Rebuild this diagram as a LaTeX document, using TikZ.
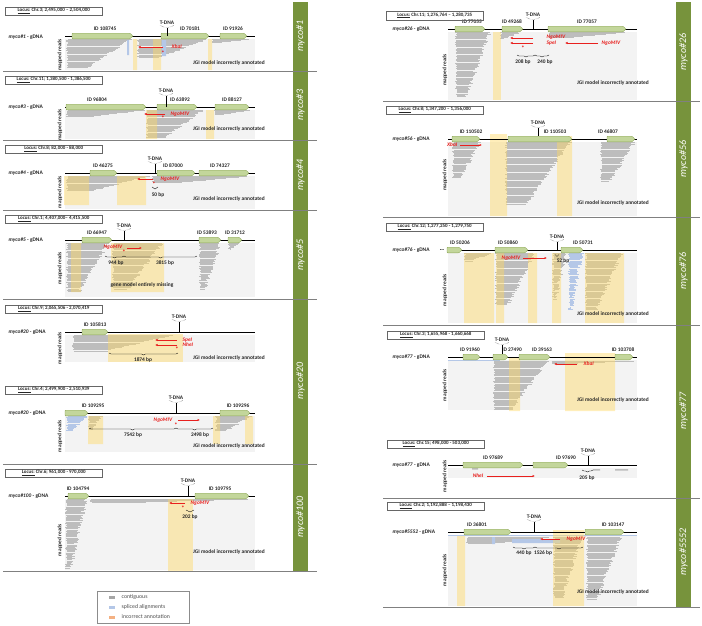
\documentclass[tikz,border=0pt]{standalone}
\usepackage{fontspec}
\setmainfont{Carlito}
\usetikzlibrary{arrows.meta,decorations.pathreplacing}
\definecolor{mycogreen}{HTML}{77933C}
\definecolor{genefill}{HTML}{C3D69B}
\definecolor{geneedge}{HTML}{8EA65A}
\definecolor{readc}{HTML}{BDBDBD}
\definecolor{readbg}{HTML}{F3F3F3}
\definecolor{splicec}{HTML}{B4C7E7}
\definecolor{annotc}{HTML}{FFD966}
\definecolor{enzc}{HTML}{E8201E}
\definecolor{legorange}{HTML}{F4B183}
\newcommand\fs{\fontsize{5.4}{6}\selectfont}
\tikzset{
  lbl/.style={font=\fs\bfseries, inner sep=0.5pt, text=black!85},
  locus/.style={draw=black!60, line width=0.5pt, font=\fontsize{5}{6}\selectfont\bfseries, text=black!85,
    anchor=west, minimum width=97pt, minimum height=8.5pt, inner sep=0.5pt},
  genome/.style={line width=1pt},
  genebox/.style={fill=genefill, draw=geneedge, line width=0.4pt, rounded corners=0.8pt},
  annot/.style={fill=annotc, fill opacity=0.45},
  enz/.style={draw=enzc, line width=0.6pt, -{Latex[length=2.5pt,width=2.2pt]}},
  enzlbl/.style={font=\fs\bfseries\itshape, text=enzc, inner sep=0.5pt},
  ast/.style={font=\fontsize{6.5}{6.5}\selectfont\bfseries, text=enzc, inner sep=0pt},
  bpbrace/.style={decorate, decoration={brace, amplitude=2pt, mirror}, line width=0.3pt},
  sep/.style={draw=black!50, line width=0.5pt},
  tag/.style={font=\fontsize{10}{12}\selectfont\itshape, text=white, rotate=90},
  legtxt/.style={font=\fontsize{5.8}{6.5}\selectfont, text=black!70, anchor=west, inner sep=0.5pt}
}
% gene: name, x1, x2, y, label x, label
\newcommand\gene[6]{%
  \draw[genebox] (#2,#4-2.8) -- (#3-3,#4-2.8) -- (#3,#4) -- (#3-3,#4+2.8) -- (#2,#4+2.8) -- cycle;
  \node[lbl] (#1) at (#5,#4-7) {#6};}
% T-DNA insertion: name, x, text y, genome y
\newcommand\tdna[4]{%
  \node[lbl] (#1) at (#2,#3) {T-DNA};
  \draw[densely dotted, line width=0.3pt] (#2-7,#3+2.5) -- (#2,#3+5) -- (#2+7,#3+2.5);
  \draw[line width=0.4pt] (#2,#3+5) -- (#2,#4);}
% read pile-up: [colour] x1, x2, top, bottom
\newcommand\reads[5][readc]{%
  \pgfmathtruncatemacro\rdn{max(1,(#5-#4)/1.15)}%
  \foreach \i in {0,...,\rdn}{%
    \pgfmathsetmacro\rdy{#4+1.15*\i}%
    \pgfmathsetmacro\rdxa{#2+2.5*rnd}%
    \pgfmathsetmacro\rdxb{#3-(#3-#2)*0.65*\i/\rdn-4*rnd}%
    \draw[draw=#1, line width=0.95pt] (\rdxa,\rdy) -- (\rdxb,\rdy);}}
\begin{document}
\begin{tikzpicture}[x=1pt,y=-1pt]
	\useasboundingbox (0,0) rectangle (702,625);
	\pgfmathsetseed{7}
	% green side bars
	\fill[mycogreen] (293,2) rectangle (308,571);
	\fill[mycogreen] (676,2) rectangle (691,607);
	%%%%%%%%%% left column
	% myco#1
	\fill[readbg] (65,39) rectangle (255,70);
	\reads{66}{133}{39}{68}
	\reads{137}{210}{39}{58}
	\reads{212}{250}{39}{43}
	\fill[splicec] (127,40) rectangle (129,55) (162,40) rectangle (166,56);
	\fill[annot] (133,39) rectangle (137,70) (153,39) rectangle (161,70) (208,39) rectangle (212,70);
	\draw[genome] (65,36) -- (255,36);
	\gene{id1a}{72}{133}{36}{105}{ID 108745}
	\gene{id1b}{161}{209}{36}{190}{ID 70181}
	\gene{id1c}{220}{247}{36}{233}{ID 91926}
	\tdna{t1}{167}{23}{36}
	\draw[enz] (163,47) -- (138,47);
	\node[enzlbl, anchor=west] (e1) at (171,47) {XbaI};
	\node[ast] at (163,53) {*};
	\node[lbl] (j1) at (229,63) {JGI model incorrectly annotated};
	\node[lbl, rotate=90] (m1) at (60,55) {mapped reads};
	\node[locus] (loc1) at (5,11) {\underline{Locus:} Chr.3; 2,495,000 – 2,504,000};
	\node[lbl, anchor=west] (dna1) at (8,37) {\textit{myco\#1} - gDNA};
	% myco#3
	\fill[readbg] (65,110) rectangle (255,139);
	\reads{66}{146}{110}{117}
	\reads{146}{205}{110}{138}
	\reads{214}{252}{110}{115}
	\fill[annot] (146,110) rectangle (157,139) (206,110) rectangle (214,139);
	\draw[genome] (65,107) -- (255,107);
	\gene{id3a}{66}{146}{107}{97}{ID 96804}
	\gene{id3b}{157}{197}{107}{180}{ID 63892}
	\gene{id3c}{215}{249}{107}{232}{ID 88127}
	\tdna{t3}{166}{91}{107}
	\draw[enz] (165,114) -- (144,114);
	\node[enzlbl, anchor=west] (e3) at (170,114) {NgoMIV};
	\node[ast] at (163,118) {*};
	\node[lbl] (j3) at (229,129) {JGI model incorrectly annotated};
	\node[lbl, rotate=90] (m3) at (60,125) {mapped reads};
	\node[locus] (loc3) at (5,80) {\underline{Locus:} Chr.11; 1,380,500 - 1,386,500};
	\node[lbl, anchor=west] (dna3) at (8,107) {\textit{myco\#3} - gDNA};
	% myco#4
	\fill[readbg] (65,176) rectangle (255,209);
	\reads{66}{150}{176}{192}
	\reads{152}{250}{176}{183}
	\fill[annot] (64,176) rectangle (89,205) (117,176) rectangle (146,205);
	\draw[genome] (65,173) -- (255,173);
	\gene{id4a}{90}{117}{173}{103}{ID 46275}
	\gene{id4b}{157}{195}{173}{173}{ID 87000}
	\gene{id4c}{199}{249}{173}{220}{ID 74327}
	\tdna{t4}{155}{159}{173}
	\draw[enz] (153,179) -- (137,179);
	\node[enzlbl, anchor=west] (e4) at (160,179) {NgoMIV};
	\node[ast] at (154,184) {*};
	\draw[bpbrace] (152,187) -- (158,187);
	\node[lbl] (b4) at (158,195) {50 bp};
	\node[lbl] (j4) at (229,199) {JGI model incorrectly annotated};
	\node[lbl, rotate=90] (m4) at (60,192) {mapped reads};
	\node[locus] (loc4) at (5,149) {\underline{Locus:} Chr.8; 82,000 - 88,000};
	\node[lbl, anchor=west] (dna4) at (8,173) {\textit{myco\#4} - gDNA};
	% myco#5
	\fill[readbg] (65,243) rectangle (255,297);
	\reads{66}{110}{243}{292}
	\reads{112}{164}{243}{290}
	\reads{199}{222}{243}{290}
	\reads{228}{242}{243}{250}
	\fill[annot] (71,243) rectangle (81,292) (111,243) rectangle (164,292);
	\draw[genome] (65,240) -- (255,240);
	\gene{id5a}{82}{112}{240}{97}{ID 66947}
	\gene{id5b}{199}{221}{240}{207}{ID 53893}
	\gene{id5c}{228}{242}{240}{235}{ID 31712}
	\tdna{t5}{124}{226}{240}
	\draw[enz] (127,248) -- (142,248);
	\node[enzlbl, anchor=east] (e5) at (123,247) {NgoMIV};
	\node[ast] at (124,252) {*};
	\draw[bpbrace] (105,256) -- (124,256);
	\draw[bpbrace] (124,256) -- (197,256);
	\node[lbl] (b5a) at (116,263) {944 bp};
	\node[lbl] (b5b) at (165,263) {3815 bp};
	\node[lbl] (j5) at (142,285) {gene model entirely missing};
	\node[lbl, rotate=90] (m5) at (60,268) {mapped reads};
	\node[locus] (loc5) at (5,219) {\underline{Locus:} Chr.1; 4,407,000– 4,415,500};
	\node[lbl, anchor=west] (dna5) at (8,240) {\textit{myco\#5} - gDNA};
	% myco#20, Chr.9
	\fill[readbg] (65,335) rectangle (255,362);
	\reads{72}{175}{335}{352}
	\fill[annot] (108,334) rectangle (183,362);
	\draw[genome] (65,332) -- (255,332);
	\gene{id20a}{82}{108}{332}{95}{ID 105813}
	\tdna{t20a}{179}{317}{332}
	\draw[enz] (177,340) -- (155,340);
	\draw[enz] (177,345) -- (155,345);
	\node[enzlbl, anchor=west] (e20a) at (182,340) {SpeI};
	\node[enzlbl, anchor=west] (e20b) at (182,345) {NheI};
	\node[ast] at (177,349) {*};
	\draw[bpbrace] (109,353) -- (178,353);
	\node[lbl] (b20a) at (143,360) {1874 bp};
	\node[lbl] (j20a) at (229,358) {JGI model incorrectly annotated};
	\node[lbl, rotate=90] (m20a) at (60,348) {mapped reads};
	\node[locus] (loc20a) at (5,309) {\underline{Locus:} Chr.9; 2,065,506 - 2,070,419};
	\node[lbl, anchor=west] (dna20a) at (8,332) {\textit{myco\#20} - gDNA};
	% myco#20, Chr.4
	\fill[readbg] (65,416) rectangle (255,452);
	\reads[splicec]{66}{88}{416}{432}
	\reads{88}{103}{416}{430}
	\reads{215}{253}{416}{432}
	\fill[annot] (88,416) rectangle (103,444) (213,416) rectangle (220,444) (245,416) rectangle (253,444);
	\draw[genome] (65,413) -- (255,413);
	\gene{id20b}{65}{88}{413}{93}{ID 109295}
	\gene{id20c}{220}{250}{413}{238}{ID 109296}
	\tdna{t20b}{176}{398}{413}
	\draw[enz] (178,420) -- (200,420);
	\node[enzlbl, anchor=east] (e20c) at (173,420) {NgoMIV};
	\node[ast] at (176,425) {*};
	\draw[bpbrace] (89,428) -- (176,428);
	\draw[bpbrace] (176,428) -- (213,428);
	\node[lbl] (b20b) at (133,435) {7542 bp};
	\node[lbl] (b20c) at (200,435) {2498 bp};
	\node[lbl] (j20b) at (229,446) {JGI model incorrectly annotated};
	\node[lbl, rotate=90] (m20b) at (60,436) {mapped reads};
	\node[locus] (loc20b) at (5,390) {\underline{Locus:} Chr.4; 2,499,900 - 2,510,939};
	\node[lbl, anchor=west] (dna20b) at (8,413) {\textit{myco\#20} - gDNA};
	% myco#100
	\fill[readbg] (65,499) rectangle (255,570);
	\reads{65}{88}{499}{568}
	\reads{90}{250}{499}{503}
	\fill[annot] (168,499) rectangle (193,571);
	\draw[genome] (65,496) -- (255,496);
	\gene{id100a}{68}{89}{496}{78}{ID 104794}
	\gene{id100b}{195}{249}{496}{220}{ID 109795}
	\tdna{t100}{188}{481}{496}
	\draw[enz] (185,503) -- (169,503);
	\node[enzlbl, anchor=west] (e100) at (190,503) {NgoMIV};
	\node[ast] at (183,508) {*};
	\draw[bpbrace] (186,510) -- (194,510);
	\node[lbl] (b100) at (190,517) {202 bp};
	\node[lbl] (j100) at (229,552) {JGI model incorrectly annotated};
	\node[lbl, rotate=90] (m100) at (60,540) {mapped reads};
	\node[locus] (loc100) at (5,473) {\underline{Locus:} Chr.6; 961,000 - 970,000};
	\node[lbl, anchor=west] (dna100) at (8,496) {\textit{myco\#100} - gDNA};
	%%%%%%%%%% right column
	% myco#26
	\fill[readbg] (448,32) rectangle (637,100);
	\reads{455}{492}{32}{97}
	\reads{500}{522}{32}{40}
	\reads{548}{628}{32}{38}
	\fill[annot] (493,32) rectangle (501,100);
	\draw[genome] (448,29) -- (637,29);
	\gene{id26a}{455}{485}{29}{472}{ID 77055}
	\gene{id26b}{502}{523}{29}{512}{ID 49268}
	\gene{id26c}{548}{626}{29}{587}{ID 77057}
	\tdna{t26}{533}{15}{29}
	\draw[enz] (533,38) -- (510,38);
	\draw[enz] (533,43) -- (510,43);
	\draw[enz] (598,43) -- (565,43);
	\node[enzlbl, anchor=west] (e26a) at (546,37) {NgoMIV};
	\node[enzlbl, anchor=west] (e26b) at (546,43) {SpeI};
	\node[enzlbl, anchor=west] (e26c) at (601,43) {NgoMIV};
	\node[ast] at (523,48) {*};
	\draw[bpbrace] (517,55) -- (535,55);
	\draw[bpbrace] (535,55) -- (549,55);
	\node[lbl] (b26a) at (523,62) {208 bp};
	\node[lbl] (b26b) at (545,62) {240 bp};
	\node[lbl] (j26) at (613,83) {JGI model incorrectly annotated};
	\node[lbl, rotate=90] (m26) at (445,70) {mapped reads};
	\node[locus] (loc26) at (386,15.5) {\underline{Locus:} Chr.11; 1,276,764 – 1,280,735};
	\node[lbl, anchor=west] (dna26) at (392,29) {\textit{myco\#26} - gDNA};
	% myco#56
	\fill[readbg] (448,142) rectangle (637,216);
	\reads{452}{482}{142}{178}
	\reads{505}{572}{142}{205}
	\reads{600}{636}{142}{182}
	\fill[annot] (490,134) rectangle (507,216) (557,136) rectangle (572,216);
	\draw[genome] (448,139) -- (637,139);
	\gene{id56a}{452}{480}{139}{471}{ID 110502}
	\gene{id56b}{508}{572}{139}{555}{ID 110503}
	\gene{id56c}{607}{635}{139}{608}{ID 46807}
	\tdna{t56}{538}{123}{136}
	\draw[enz] (460,145) -- (482,145);
	\node[enzlbl, anchor=east] (e56) at (458,145) {XbaI};
	\node[lbl] (j56) at (613,203) {JGI model incorrectly annotated};
	\node[lbl, rotate=90] (m56) at (445,175) {mapped reads};
	\node[locus] (loc56) at (386,110) {\underline{Locus:} Chr.8; 1,347,200 – 1,356,000};
	\node[lbl, anchor=west] (dna56) at (392,139) {\textit{myco\#56} - gDNA};
	% myco#76
	\fill[readbg] (448,253) rectangle (637,323);
	\reads{464}{494}{253}{262}
	\reads{495}{537}{253}{305}
	\reads{552}{568}{253}{300}
	\reads[splicec]{568}{584}{253}{310}
	\reads{585}{624}{253}{310}
	\fill[annot] (464,253) rectangle (494,323) (496,253) rectangle (504,323) (528,253) rectangle (537,323)
		(552,253) rectangle (561,323) (585,253) rectangle (624,323);
	\draw[genome] (448,250) -- (637,250);
	\gene{id76a}{447}{462}{250}{460}{ID 50206}
	\gene{id76b}{495}{528}{250}{508}{ID 50860}
	\gene{id76c}{561}{583}{250}{583}{ID 50731}
	\tdna{t76}{557}{237}{250}
	\draw[enz] (523,258) -- (547,258);
	\node[enzlbl, anchor=east] (e76) at (521,258) {NgoMIV};
	\draw[bpbrace] (555,254.5) -- (559,254.5);
	\node[lbl] (b76) at (563,261) {52 bp};
	\node[lbl] (dots76) at (442,250) {···};
	\node[lbl] (j76) at (613,314) {JGI model incorrectly annotated};
	\node[lbl, rotate=90] (m76) at (445,290) {mapped reads};
	\node[locus] (loc76) at (386,227) {\underline{Locus:} Chr.12; 1,277,250 - 1,279,750};
	\node[lbl, anchor=west] (dna76) at (392,250) {\textit{myco\#76} - gDNA};
	% myco#77, Chr.3
	\fill[readbg] (448,360) rectangle (637,410);
	\draw[splicec, line width=1.2pt] (448,360.5) -- (500,360.5);
	\reads{493}{550}{361}{410}
	\reads{550}{636}{361}{364}
	\fill[annot] (509,358) rectangle (520,411) (565,353) rectangle (615,411);
	\draw[genome] (448,357) -- (637,357);
	\gene{id77a}{463}{480}{357}{470}{ID 91960}
	\gene{id77b}{493}{508}{357}{512}{ID 27490}
	\gene{id77c}{519}{550}{357}{542}{ID 39163}
	\gene{id77d}{615}{633}{357}{623}{ID 103708}
	\tdna{t77a}{502}{340}{354}
	\draw[enz] (577,364) -- (554,364);
	\node[enzlbl, anchor=west] (e77a) at (583,364) {XbaI};
	\node[lbl] (j77a) at (613,400) {JGI model incorrectly annotated};
	\node[lbl, rotate=90] (m77a) at (445,385) {mapped reads};
	\node[locus] (loc77a) at (387,335) {\underline{Locus:} Chr.3; 1,655,968 - 1,660,668};
	\node[lbl, anchor=west] (dna77a) at (392,357) {\textit{myco\#77} - gDNA};
	% myco#77, Chr.15
	\fill[readbg] (448,468) rectangle (637,478);
	\fill[readc] (472,468) rectangle (478,469.5) (593,469) rectangle (600,470.5) (615,469) rectangle (628,470.5);
	\draw[genome] (448,465) -- (637,465);
	\gene{id77e}{463}{523}{465}{493}{ID 97689}
	\gene{id77f}{533}{568}{465}{566}{ID 97690}
	\tdna{t77b}{588}{451}{465}
	\draw[enz] (487,476) -- (535,476);
	\node[enzlbl, anchor=east] (e77b) at (484,476) {NheI};
	\draw[bpbrace] (582,470) -- (593,470);
	\node[lbl] (b77) at (587,478) {205 bp};
	\node[lbl, rotate=90] (m77b) at (445,476) {mapped reads};
	\node[locus] (loc77b) at (387,444) {\underline{Locus:} Chr.15; 498,000 - 503,000};
	\node[lbl, anchor=west] (dna77b) at (392,465) {\textit{myco\#77} - gDNA};
	% myco#5552
	\fill[readbg] (448,536) rectangle (637,606);
	\draw[splicec, line width=1pt] (448,535) -- (637,535);
	\reads{466}{552}{537}{545}
	\reads{553}{584}{537}{598}
	\reads{586}{623}{537}{600}
	\fill[splicec] (512,539) rectangle (560,543) (492,537) rectangle (495,544);
	\fill[annot] (457,536) rectangle (465,606) (553,530) rectangle (584,606);
	\draw[genome] (448,532) -- (637,532);
	\gene{id5552a}{464}{511}{532}{477}{ID 36801}
	\gene{id5552b}{585}{624}{532}{613}{ID 103147}
	\tdna{t5552}{534}{517}{532}
	\draw[enz] (560,539) -- (540,539);
	\node[enzlbl, anchor=west] (e5552) at (566,539) {NgoMIV};
	\draw[bpbrace] (513,547) -- (535,547);
	\draw[bpbrace] (535,547) -- (583,547);
	\node[lbl] (b5552a) at (524,553) {440 bp};
	\node[lbl] (b5552b) at (543,553) {1526 bp};
	\node[lbl] (j5552) at (613,592) {JGI model incorrectly annotated};
	\node[lbl, rotate=90] (m5552) at (445,570) {mapped reads};
	\node[locus] (loc5552) at (387,506) {\underline{Locus:} Chr.2; 1,192,888 – 1,198,430};
	\node[lbl, anchor=west] (dna5552) at (392,532) {\textit{myco\#5552} - gDNA};
	% separators
	\foreach \sy in {71,140,210,299,464,571} \draw[sep] (3,\sy) -- (317,\sy);
	\foreach \sy in {101,217,325,498,607} \draw[sep] (383,\sy) -- (700,\sy);
	% side labels
	\node[tag] at (300.5,36) {myco\#1};
	\node[tag] at (300.5,105) {myco\#3};
	\node[tag] at (300.5,175) {myco\#4};
	\node[tag] at (300.5,255) {myco\#5};
	\node[tag] at (300.5,381) {myco\#20};
	\node[tag] at (300.5,517) {myco\#100};
	\node[tag] at (683.5,52) {myco\#26};
	\node[tag] at (683.5,159) {myco\#56};
	\node[tag] at (683.5,271) {myco\#76};
	\node[tag] at (683.5,411) {myco\#77};
	\node[tag] at (683.5,552) {myco\#5552};
	% legend
	\draw[black!45, line width=0.4pt] (97,591) rectangle (189,623);
	\fill[black!35] (109,595.5) rectangle (115,598.5);
	\fill[splicec] (109,605.5) rectangle (115,608.5);
	\fill[legorange] (109,615.5) rectangle (115,618.5);
	\node[legtxt] (lg1) at (121,597) {contiguous};
	\node[legtxt] (lg2) at (121,607) {spliced alignments};
	\node[legtxt] (lg3) at (121,617) {incorrect annotation};
\end{tikzpicture}
\end{document}
